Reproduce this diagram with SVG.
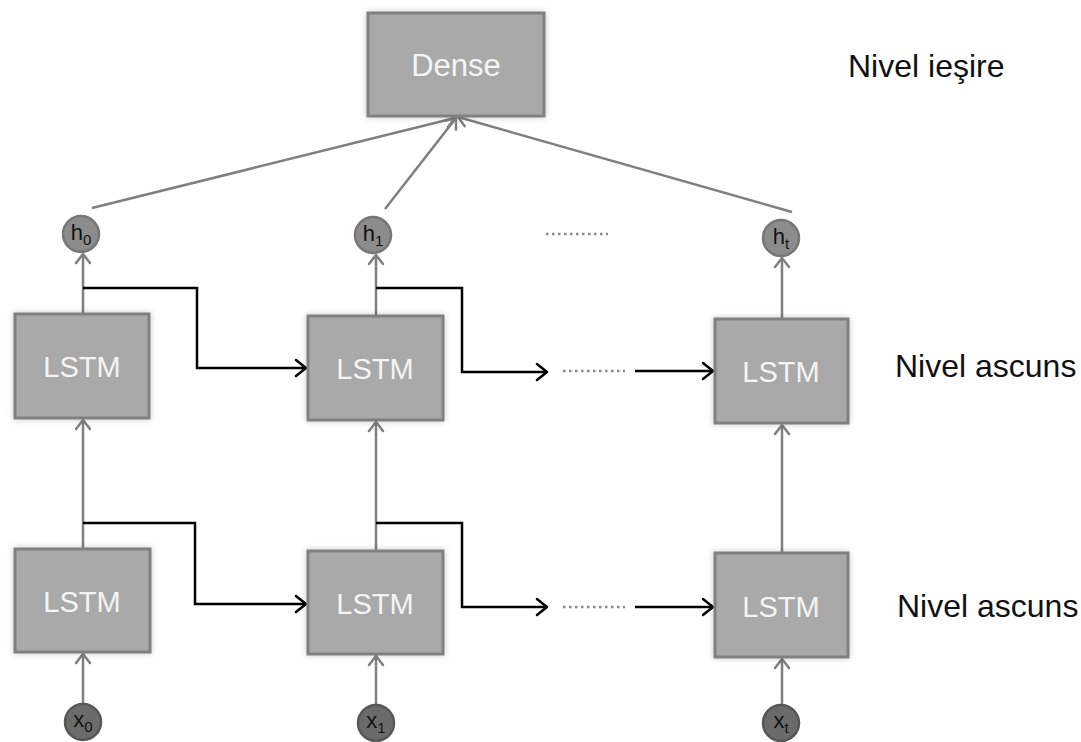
<svg xmlns="http://www.w3.org/2000/svg" width="1081" height="742" viewBox="0 0 1081 742">
  <defs>
    <filter id="soft" x="-10%" y="-10%" width="120%" height="120%">
      <feDropShadow dx="0" dy="0" stdDeviation="3" flood-color="#000" flood-opacity="0.22"/>
    </filter>
    <marker id="arrGray" markerUnits="userSpaceOnUse" viewBox="-12 -10 14 20" refX="0" refY="0" markerWidth="14" markerHeight="20" orient="auto">
      <path d="M-9,-7 L0,0 L-9,7" fill="none" stroke="#7f7f7f" stroke-width="2.5" stroke-linecap="round" stroke-linejoin="round"/>
    </marker>
    <marker id="arrBlack" markerUnits="userSpaceOnUse" viewBox="-12 -10 14 20" refX="0" refY="0" markerWidth="14" markerHeight="20" orient="auto">
      <path d="M-10,-8 L0,0 L-10,8" fill="none" stroke="#000" stroke-width="2.5" stroke-linecap="round" stroke-linejoin="round"/>
    </marker>
  </defs>
  <style>
    .box { fill: #a9a9a9; stroke: #808080; stroke-width: 3; filter: url(#soft); }
    .boxText { font-family: "Liberation Sans", Arial, sans-serif; fill: #f4f4f4; text-anchor: middle; }
    .hNode { fill: #8c8c8c; stroke: #767676; stroke-width: 2.5; }
    .xNode { fill: #6b6b6b; stroke: #575757; stroke-width: 2.5; }
    .nodeText { font-family: "Liberation Sans", Arial, sans-serif; font-size: 22px; fill: #111; text-anchor: middle; }
    .sub { font-size: 15px; }
    .label { font-family: "Liberation Sans", Arial, sans-serif; font-size: 32px; fill: #111; }
    .gray { fill: none; stroke: #7f7f7f; stroke-width: 2.5; marker-end: url(#arrGray); }
    .black { fill: none; stroke: #000; stroke-width: 2.5; marker-end: url(#arrBlack); }
    .dots { fill: none; stroke: #8a8a8a; stroke-width: 2.5; stroke-dasharray: 2.5 3.5; }
  </style>

  <!-- connectors -->
  <g id="connectors">
    <!-- hidden states into the dense layer -->
    <line class="gray" x1="92" y1="208" x2="455" y2="118"/>
    <line class="gray" x1="385" y1="209" x2="456" y2="118"/>
    <line class="gray" x1="792" y1="212" x2="458" y2="117"/>

    <!-- vertical flow, column 0 -->
    <line class="gray" x1="83" y1="313" x2="83" y2="254"/>
    <line class="gray" x1="83" y1="548" x2="83" y2="420"/>
    <line class="gray" x1="83" y1="704" x2="83" y2="654"/>
    <!-- vertical flow, column 1 -->
    <line class="gray" x1="376" y1="315" x2="376" y2="255"/>
    <line class="gray" x1="376" y1="550" x2="376" y2="422"/>
    <line class="gray" x1="376" y1="705" x2="376" y2="656"/>
    <!-- vertical flow, column t -->
    <line class="gray" x1="782" y1="318" x2="782" y2="258"/>
    <line class="gray" x1="782" y1="552" x2="782" y2="425"/>
    <line class="gray" x1="782" y1="705" x2="782" y2="659"/>

    <!-- recurrent links, upper layer -->
    <path class="black" d="M83,288 H197 V368 H306"/>
    <path class="black" d="M376,288 H462 V372 H547"/>
    <line class="dots" x1="563" y1="371" x2="625" y2="371"/>
    <line class="black" x1="635" y1="371" x2="713" y2="371"/>

    <!-- recurrent links, lower layer -->
    <path class="black" d="M83,523 H195 V604 H306"/>
    <path class="black" d="M376,523 H462 V607 H547"/>
    <line class="dots" x1="563" y1="607" x2="625" y2="607"/>
    <line class="black" x1="635" y1="607" x2="713" y2="607"/>

    <!-- gap between h1 and ht -->
    <line class="dots" x1="546" y1="234" x2="608" y2="234"/>
  </g>

  <!-- output layer -->
  <g id="dense">
    <rect class="box" x="368" y="13" width="176" height="103"/>
    <text class="boxText" x="456" y="76" font-size="31">Dense</text>
  </g>

  <!-- upper LSTM layer -->
  <g id="lstm-top-0">
    <rect class="box" x="15" y="314" width="134" height="104"/>
    <text class="boxText" x="82" y="377" font-size="29">LSTM</text>
  </g>
  <g id="lstm-top-1">
    <rect class="box" x="308" y="316" width="135" height="104"/>
    <text class="boxText" x="375" y="379" font-size="29">LSTM</text>
  </g>
  <g id="lstm-top-t">
    <rect class="box" x="715" y="319" width="133" height="104"/>
    <text class="boxText" x="781" y="382" font-size="29">LSTM</text>
  </g>

  <!-- lower LSTM layer -->
  <g id="lstm-bottom-0">
    <rect class="box" x="15" y="549" width="135" height="103"/>
    <text class="boxText" x="82" y="612" font-size="29">LSTM</text>
  </g>
  <g id="lstm-bottom-1">
    <rect class="box" x="308" y="551" width="135" height="103"/>
    <text class="boxText" x="375" y="614" font-size="29">LSTM</text>
  </g>
  <g id="lstm-bottom-t">
    <rect class="box" x="715" y="553" width="133" height="104"/>
    <text class="boxText" x="781" y="617" font-size="29">LSTM</text>
  </g>

  <!-- hidden state outputs -->
  <g id="h0">
    <circle class="hNode" cx="81" cy="234" r="18"/>
    <text class="nodeText" x="81" y="240">h<tspan class="sub" dy="5">0</tspan></text>
  </g>
  <g id="h1">
    <circle class="hNode" cx="373" cy="235" r="18"/>
    <text class="nodeText" x="373" y="241">h<tspan class="sub" dy="5">1</tspan></text>
  </g>
  <g id="ht">
    <circle class="hNode" cx="781" cy="238" r="18"/>
    <text class="nodeText" x="781" y="244">h<tspan class="sub" dy="5">t</tspan></text>
  </g>

  <!-- inputs -->
  <g id="x0">
    <circle class="xNode" cx="83" cy="722" r="18"/>
    <text class="nodeText" x="83" y="727">x<tspan class="sub" dy="5">0</tspan></text>
  </g>
  <g id="x1">
    <circle class="xNode" cx="376" cy="723" r="18"/>
    <text class="nodeText" x="376" y="728">x<tspan class="sub" dy="5">1</tspan></text>
  </g>
  <g id="xt">
    <circle class="xNode" cx="781" cy="723" r="18"/>
    <text class="nodeText" x="781" y="728">x<tspan class="sub" dy="5">t</tspan></text>
  </g>

  <!-- layer labels -->
  <g id="labels">
    <text class="label" x="848" y="77">Nivel ieşire</text>
    <text class="label" x="895" y="377">Nivel ascuns</text>
    <text class="label" x="897" y="617">Nivel ascuns</text>
  </g>
</svg>
